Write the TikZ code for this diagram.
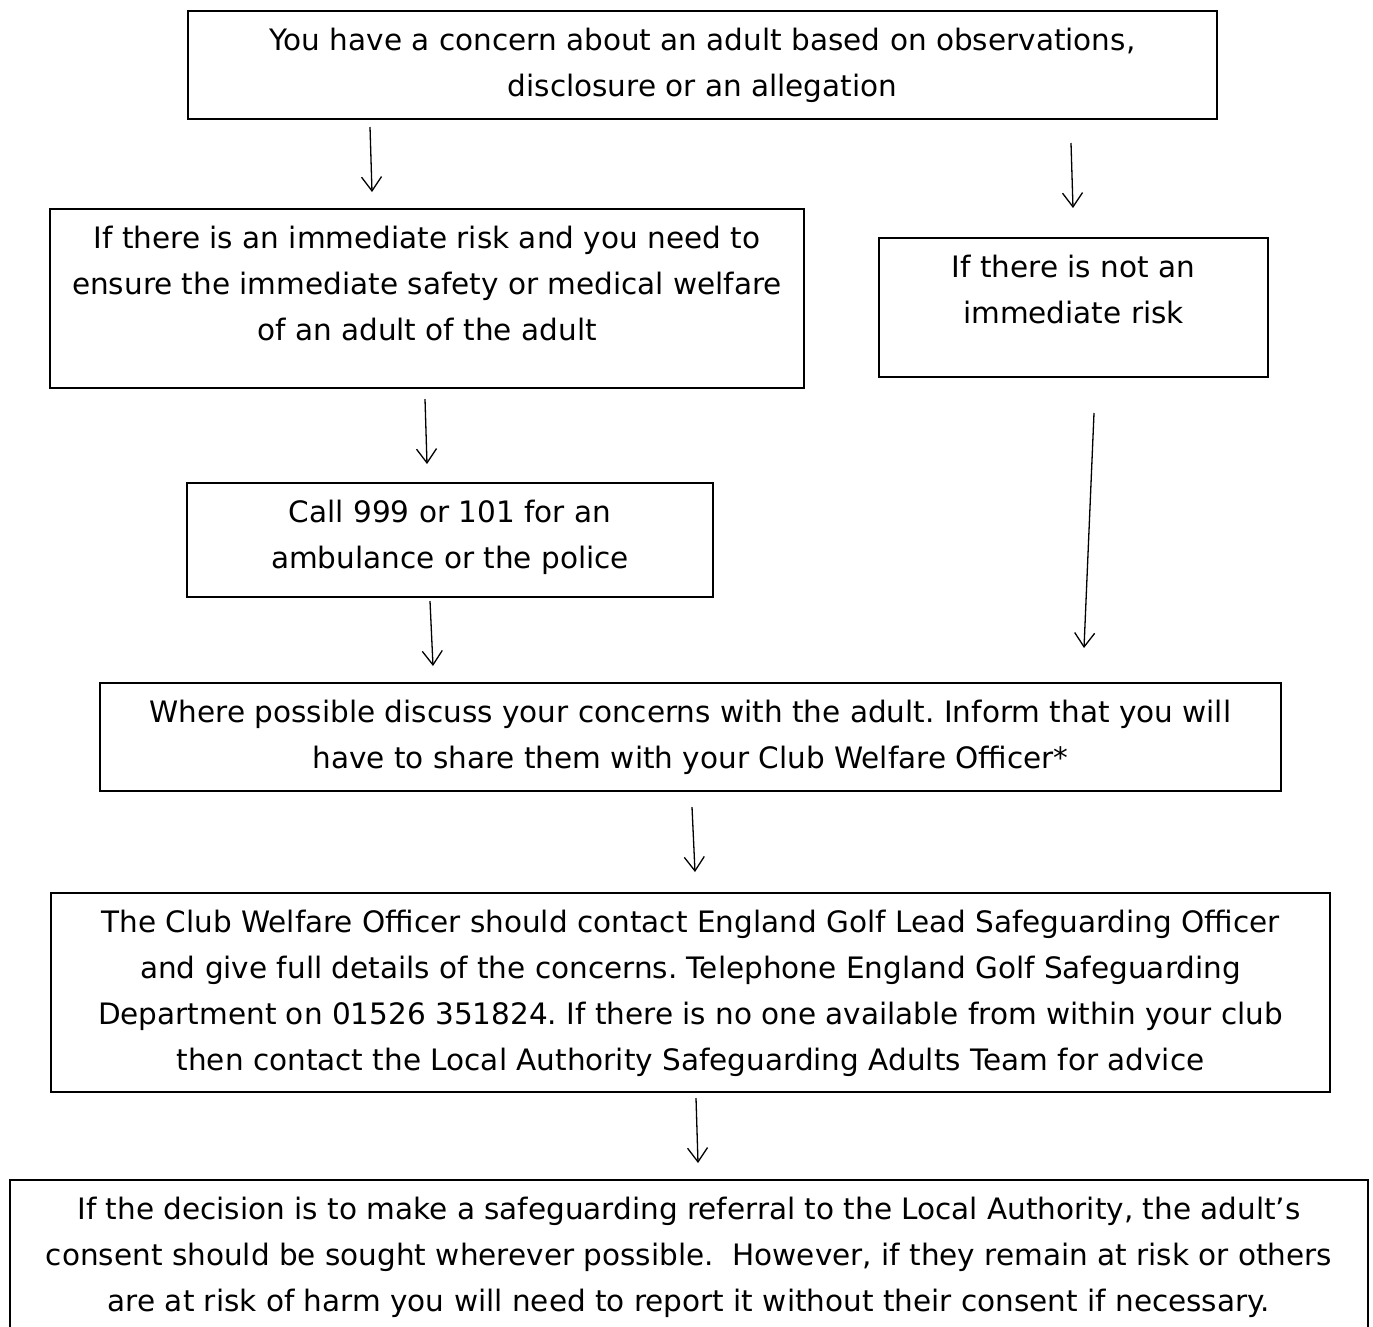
\documentclass[tikz,border=0pt]{standalone}
\usepackage{fontspec}
\setmainfont{DejaVu Sans}
\usetikzlibrary{arrows.meta}
\frenchspacing
\begin{document}
\begin{tikzpicture}[x=1pt,y=-1pt,
  box/.style={draw, line width=2pt, inner sep=0pt, anchor=north west},
  txt/.style={anchor=north, align=center, inner sep=0pt, font=\fontsize{29.5}{46}\selectfont},
  arr/.style={line width=1.3pt, -{Straight Barb[length=14pt,width=20pt]}}]
\useasboundingbox (0,0) rectangle (1373,1326);
\node[box, minimum width=1029pt, minimum height=108pt] (b1) at (187,10) {};
\node[box, minimum width=754pt, minimum height=179pt] (b2) at (49,208) {};
\node[box, minimum width=389pt, minimum height=139pt] (b3) at (878,237) {};
\node[box, minimum width=526pt, minimum height=114pt] (b4) at (186,482) {};
\node[box, minimum width=1181pt, minimum height=108pt] (b5) at (99,682) {};
\node[box, minimum width=1279pt, minimum height=199pt] (b6) at (50,892) {};
\node[box, minimum width=1358pt, minimum height=170pt] (b7) at (9,1179) {};

\node[txt] (t1) at ([yshift=-8pt]b1.north) {\strut You have a concern about an adult based on observations,\\disclosure or an allegation};
\node[txt] (t2) at ([yshift=-8pt]b2.north) {\strut If there is an immediate risk and you need to\\ensure the immediate safety or medical welfare\\of an adult of the adult};
\node[txt] (t3) at ([yshift=-8pt]b3.north) {\strut If there is not an\\immediate risk};
\node[txt] (t4) at ([yshift=-8pt]b4.north) {\strut Call 999 or 101 for an\\ambulance or the police};
\node[txt] (t5) at ([yshift=-8pt]b5.north) {\strut Where possible discuss your concerns with the adult. Inform that you will\\have to share them with your Club Welfare Officer*};
\node[txt] (t6) at ([yshift=-8pt]b6.north) {\strut The Club Welfare Officer should contact England Golf Lead Safeguarding Officer\\and give full details of the concerns. Telephone England Golf Safeguarding\\Department on 01526 351824. If there is no one available from within your club\\then contact the Local Authority Safeguarding Adults Team for advice};
\node[txt] (t7) at ([yshift=-8pt]b7.north) {\strut If the decision is to make a safeguarding referral to the Local Authority, the adult’s\\consent should be sought wherever possible.~ However, if they remain at risk or others\\are at risk of harm you will need to report it without their consent if necessary.};

\coordinate (a1s) at (370,127); \coordinate (a1e) at (372,192);
\coordinate (a2s) at (1071,143); \coordinate (a2e) at (1073,208);
\coordinate (a3s) at (425,399); \coordinate (a3e) at (427,464);
\coordinate (a4s) at (1094,413); \coordinate (a4e) at (1084,648);
\coordinate (a5s) at (430,601); \coordinate (a5e) at (433,666);
\coordinate (a6s) at (692,807); \coordinate (a6e) at (695,872);
\coordinate (a7s) at (696,1098); \coordinate (a7e) at (698,1163);
\draw[arr] (a1s) -- (a1e);
\draw[arr] (a2s) -- (a2e);
\draw[arr] (a3s) -- (a3e);
\draw[arr] (a4s) -- (a4e);
\draw[arr] (a5s) -- (a5e);
\draw[arr] (a6s) -- (a6e);
\draw[arr] (a7s) -- (a7e);
\end{tikzpicture}
\end{document}
